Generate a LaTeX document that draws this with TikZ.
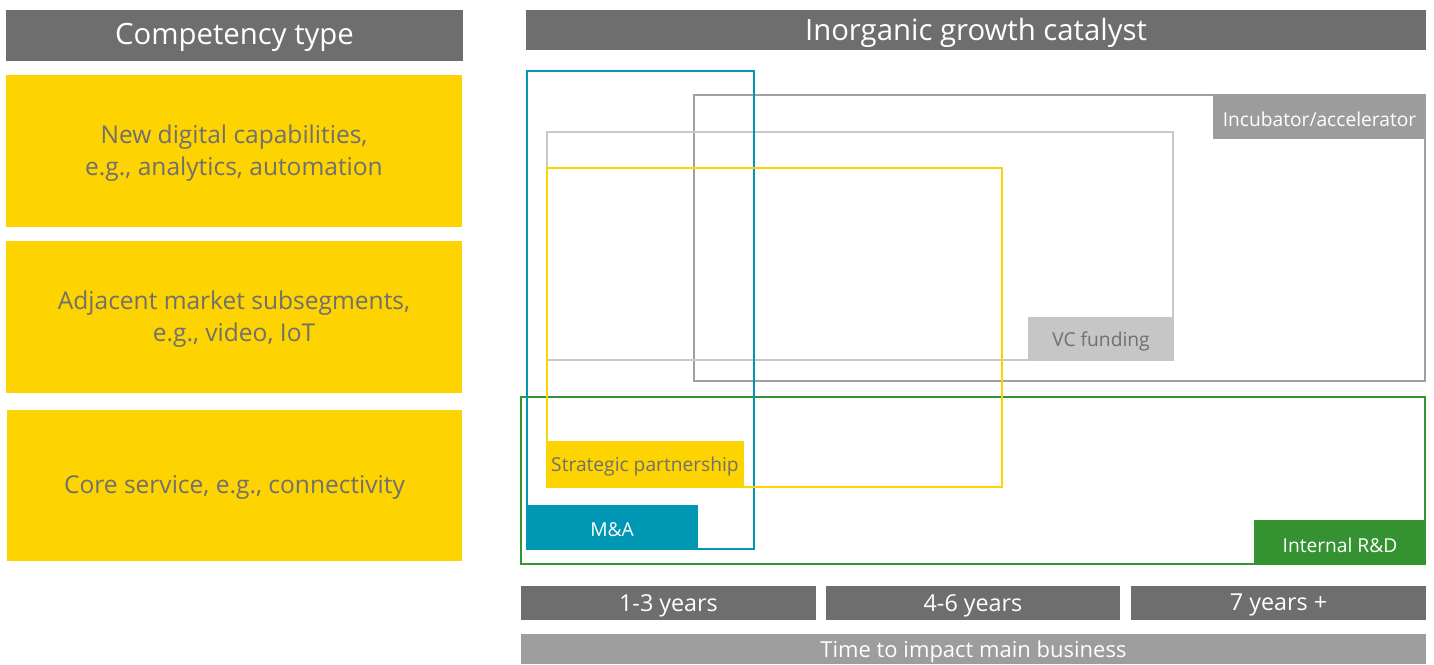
\documentclass[tikz,border=0pt]{standalone}
\usepackage{fontspec}
\setmainfont{Open Sans}
\usetikzlibrary{fit}
\definecolor{hdr}{HTML}{6E6E6E}
\definecolor{eyyellow}{HTML}{FDD300}
\definecolor{txtgray}{HTML}{707070}
\definecolor{teal}{HTML}{0097B5}
\definecolor{rdgreen}{HTML}{359230}
\definecolor{incgray}{HTML}{9C9C9C}
\definecolor{incline}{HTML}{A0A0A0}
\definecolor{vcgray}{HTML}{C6C6C6}
\definecolor{vcline}{HTML}{C8C8C8}
\definecolor{timegray}{HTML}{9D9D9D}
\tikzset{
  area/.style={inner sep=0pt, outer sep=0pt},
  txt/.style={inner sep=0pt, align=center, yshift=-1.8pt},
  hfont/.style={font=\fontsize{22}{26}\selectfont},
  cfont/.style={text=txtgray, font=\fontsize{18.4}{24}\selectfont},
  outline/.style={area, draw=#1, line width=1.5pt},
  tfont/.style={font=\fontsize{14.4}{17}\selectfont},
  yfont/.style={text=white, font=\fontsize{17.5}{20}\selectfont},
}
\begin{document}
\begin{tikzpicture}[x=0.75pt,y=-0.75pt]
\useasboundingbox[fill=white] (0,0) rectangle (1434,664);
% left column
\node[area, fill=hdr, fit={(6,10)(463,61)}] (comp) {};
\node[txt, hfont, text=white] (compT) at (comp) {Competency type};
\node[area, fill=eyyellow, fit={(6,75)(462,227)}] (c1) {};
\node[txt, cfont] (c1T) at (c1) {New digital capabilities,\\e.g., analytics, automation};
\node[area, fill=eyyellow, fit={(6,241)(462,393)}] (c2) {};
\node[txt, cfont] (c2T) at (c2) {Adjacent market subsegments,\\e.g., video, IoT};
\node[area, fill=eyyellow, fit={(7,410)(462,561)}] (c3) {};
\node[txt, cfont] (c3T) at (c3) {Core service, e.g., connectivity};
% right header
\node[area, fill=hdr, fit={(526,10)(1426,50)}] (inorg) {};
\node[txt, hfont, text=white] (inorgT) at (inorg) {Inorganic growth catalyst};
% outlines
\node[outline=incline, fit={(694,95)(1425,381)}] (inc) {};
\node[outline=vcline, fit={(547,132)(1173,360)}] (vc) {};
\node[outline=rdgreen, fit={(521,397)(1425,564)}] (rd) {};
\node[outline=teal, fit={(527,71)(754,549)}] (ma) {};
\node[outline=eyyellow, fit={(547,168)(1002,487)}] (sp) {};
% tags
\node[area, fill=incgray, fit={(1213,95)(1426,139)}] (inctag) {};
\node[txt, tfont, text=white] (inctagT) at (inctag) {Incubator/accelerator};
\node[area, fill=vcgray, fit={(1028,317)(1174,361)}] (vctag) {};
\node[txt, tfont, text=txtgray] (vctagT) at (vctag) {VC funding};
\node[area, fill=eyyellow, fit={(546,441)(744,488)}] (sptag) {};
\node[txt, tfont, text=txtgray] (sptagT) at (sptag) {Strategic partnership};
\node[area, fill=teal, fit={(526,505)(698,550)}] (matag) {};
\node[txt, tfont, text=white] (matagT) at (matag) {M\&A};
\node[area, fill=rdgreen, fit={(1254,520)(1426,565)}] (rdtag) {};
\node[txt, tfont, text=white] (rdtagT) at (rdtag) {Internal R\&D};
% time axis
\node[area, fill=hdr, fit={(521,586)(816,620)}] (y1) {};
\node[txt, yfont] (y1T) at (y1) {1-3 years};
\node[area, fill=hdr, fit={(826,586)(1120,620)}] (y2) {};
\node[txt, yfont] (y2T) at (y2) {4-6 years};
\node[area, fill=hdr, fit={(1131,586)(1426,620)}] (y3) {};
\node[txt, yfont] (y3T) at (y3) {7 years +};
\node[area, fill=timegray, fit={(521,634)(1426,664)}] (time) {};
\node[txt, text=white, font=\fontsize{16.5}{20}\selectfont] (timeT) at (time) {Time to impact main business};
\end{tikzpicture}
\end{document}
